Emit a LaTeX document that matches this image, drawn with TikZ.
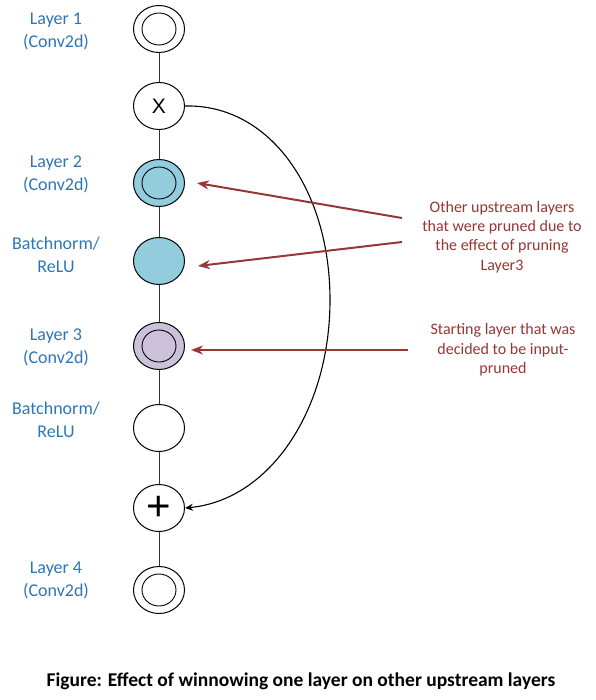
\documentclass[tikz,border=0pt]{standalone}
\usepackage{fontspec}
\setmainfont{Carlito}
\newfontfamily\arialfont{Liberation Sans}
\usetikzlibrary{shapes.geometric,arrows.meta}
\definecolor{lblue}{HTML}{2E75B6}
\definecolor{tealfill}{HTML}{93CDDD}
\definecolor{purpfill}{HTML}{CCC1DA}
\definecolor{dred}{HTML}{953735}
\tikzset{
 layer/.style={ellipse,draw=black,line width=1pt,minimum width=51pt,minimum height=47pt,inner sep=0pt,fill=white},
 innerring/.style={ellipse,draw=black,line width=0.9pt,minimum width=34pt,minimum height=32pt,inner sep=0pt},
 lbl/.style={text=lblue,font=\fontsize{18}{23}\selectfont,align=center},
 note/.style={text=dred,font=\fontsize{16}{19.3}\selectfont,align=center},
 link/.style={draw=black!80,line width=0.8pt},
 ptr/.style={draw=dred,line width=2pt,-{Stealth[length=12pt,width=9pt]}},
 skip/.style={draw=black,line width=1.1pt,-{Stealth[length=8pt,width=7pt]}},
}
\begin{document}
\begin{tikzpicture}[x=1pt,y=-1pt]
\useasboundingbox (0,0) rectangle (595,700);
% layer nodes
\node[layer] (l1) at (159,29) {};
\node[innerring] (l1i) at (l1) {};
\node[layer,font=\arialfont\fontsize{21}{21}\selectfont] (mul) at (159,106) {\raisebox{-1.5pt}{X}};
\node[layer,fill=tealfill] (l2) at (159,183) {};
\node[innerring] (l2i) at (l2) {};
\node[layer,fill=tealfill] (bn1) at (159,261) {};
\node[layer,fill=purpfill] (l3) at (159,346) {};
\node[innerring] (l3i) at (l3) {};
\node[layer] (bn2) at (159,428) {};
\node[layer,font=\arialfont\fontsize{42}{42}\selectfont] (add) at (159,508) {+};
\node[layer] (l4) at (159,590) {};
\node[innerring] (l4i) at (l4) {};
% links
\draw[link] (l1) -- (mul);
\draw[link] (mul) -- (l2);
\draw[link] (l2) -- (bn1);
\draw[link] (bn1) -- (l3);
\draw[link] (l3) -- (bn2);
\draw[link] (bn2) -- (add);
\draw[link] (add) -- (l4);
% skip connection
\draw[skip] (mul.east) .. controls (270,104) and (330,190) .. (330,300)
  .. controls (330,410) and (270,500) .. (add.east);
% labels
\node[lbl] (t1) at (56,31) {Layer 1\\(Conv2d)};
\node[lbl] (t2) at (56,174) {Layer 2\\(Conv2d)};
\node[lbl] (t3) at (56,255) {Batchnorm/\\ReLU};
\node[lbl] (t4) at (56,347) {Layer 3\\(Conv2d)};
\node[lbl] (t5) at (56,420) {Batchnorm/\\ReLU};
\node[lbl] (t6) at (56,580) {Layer 4\\(Conv2d)};
% notes
\node[note] (n1) at (502,237) {Other upstream layers\\that were pruned due to\\the effect of pruning\\Layer3};
\node[note] (n2) at (503,350) {Starting layer that was\\decided to be input-\\pruned};
\coordinate (a1s) at (402,218);
\coordinate (a1e) at (197,183);
\coordinate (a2s) at (402,242);
\coordinate (a2e) at (198,266);
\coordinate (a3s) at (408,350);
\coordinate (a3e) at (191,350);
\draw[ptr] (a1s) -- (a1e);
\draw[ptr] (a2s) -- (a2e);
\draw[ptr] (a3s) -- (a3e);
% caption
\node[font=\bfseries\fontsize{19.5}{22}\selectfont] (cap) at (301,681) {Figure: Effect of winnowing one layer on other upstream layers};
\end{tikzpicture}
\end{document}
